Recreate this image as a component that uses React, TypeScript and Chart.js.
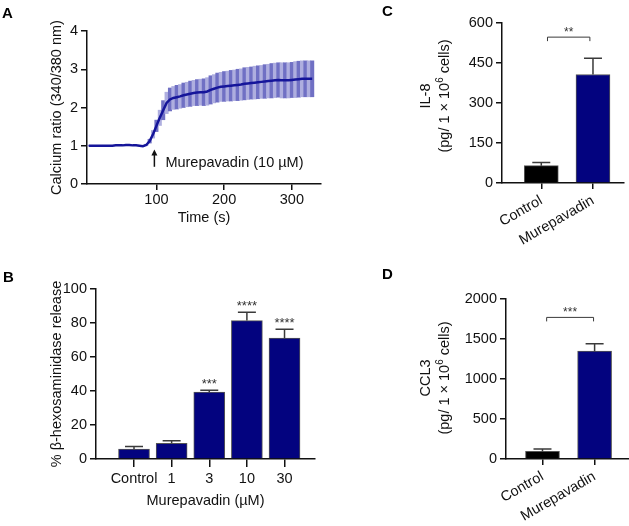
import React, { useEffect, useRef } from "react";
import { Chart, registerables } from "chart.js";
Chart.register(...registerables);

const FONT = "'Liberation Sans', Arial, Helvetica, sans-serif";
const TXT = "#111111";
const AXIS = "#111111";
const NAVY = "#03037f";
const BLACK = "#000000";

// ---------- Panel A: calcium ratio time course ----------
const timeSec = [0, 5, 10, 15, 20, 25, 30, 35, 40, 45, 50, 55, 60, 65, 70, 75, 80, 85, 90, 95, 100, 105, 110, 115, 120, 125, 130, 135, 140, 145, 150, 155, 160, 165, 170, 175, 180, 185, 190, 195, 200, 205, 210, 215, 220, 225, 230, 235, 240, 245, 250, 255, 260, 265, 270, 275, 280, 285, 290, 295, 300, 305, 310, 315, 320, 325, 330];
const calciumMean = [1.0, 1.0, 1.0, 1.0, 1.0, 1.0, 1.0, 1.0, 1.01, 1.01, 1.01, 1.02, 1.02, 1.01, 1.01, 1.0, 0.99,
  1.02, 1.12, 1.3, 1.52, 1.73, 1.93, 2.12, 2.21,
  2.25, 2.27, 2.29, 2.32, 2.34, 2.36, 2.38, 2.39, 2.4, 2.4,
  2.42, 2.46, 2.49, 2.52, 2.54, 2.55, 2.56, 2.57, 2.58, 2.59,
  2.6, 2.62, 2.63, 2.64, 2.65, 2.66, 2.67, 2.68, 2.69, 2.7,
  2.71, 2.72, 2.71, 2.71, 2.71, 2.72, 2.73, 2.74, 2.75, 2.75, 2.75, 2.75];
const calciumSem = [0, 0, 0, 0, 0, 0, 0, 0, 0, 0, 0, 0, 0, 0, 0, 0, 0,
  0.02, 0.05, 0.1, 0.15, 0.2, 0.25, 0.28, 0.3,
  0.3, 0.31, 0.31, 0.32, 0.32, 0.33, 0.33, 0.34, 0.34, 0.35,
  0.36, 0.37, 0.37, 0.38, 0.38, 0.39, 0.39, 0.4, 0.4, 0.41,
  0.41, 0.42, 0.42, 0.42, 0.43, 0.43, 0.43, 0.44, 0.44, 0.45,
  0.45, 0.45, 0.46, 0.46, 0.46, 0.46, 0.47, 0.47, 0.47, 0.47, 0.47, 0.47];
const timeTicks = [100, 200, 300];
const calciumTicks = [0, 1, 2, 3, 4];
const stimulusTime = 97;
const stimulusLabel = "Murepavadin (10 µM)";

// ---------- Panel B: beta-hexosaminidase ----------
const bCategories = ["Control", "1", "3", "10", "30"];
const bMeans = [5.8, 9.2, 39.3, 81.4, 71.1];
const bSems = [1.6, 1.6, 1.1, 4.9, 5.2];
const bStars = ["", "", "***", "****", "****"];
const bTicks = [0, 20, 40, 60, 80, 100];

// ---------- Panels C & D ----------
const cdCategories = ["Control", "Murepavadin"];
const il8Means = [65, 407];
const il8Sems = [12, 61];
const il8Ticks = [0, 150, 300, 450, 600];
const il8Sig = "**";
const ccl3Means = [95, 1348];
const ccl3Sems = [29, 92];
const ccl3Ticks = [0, 500, 1000, 1500, 2000];
const ccl3Sig = "***";

const font = (size: number, weight: string = "normal") => ({ family: FONT, size, weight } as any);

function axisBase(tickLength: number, tickPadding: number) {
  return {
    border: { color: AXIS, width: 1.5 },
    grid: { drawOnChartArea: false, offset: false, color: AXIS, lineWidth: 1.5, tickLength },
    ticks: { color: TXT, font: font(14.5), padding: tickPadding, autoSkip: false, callback: (v: any) => String(v) },
  };
}

function errorBars(id: string, means: number[], sems: number[], capHalf: number) {
  return {
    id,
    afterDatasetsDraw(chart: any) {
      const { ctx, scales } = chart;
      const x = scales.x, y = scales.y;
      ctx.save();
      ctx.strokeStyle = "#3a3a3a";
      ctx.lineWidth = 1.5;
      means.forEach((m, i) => {
        const px = x.getPixelForValue(i);
        const y0 = y.getPixelForValue(m);
        const y1 = y.getPixelForValue(m + sems[i]);
        ctx.beginPath();
        ctx.moveTo(px, y0);
        ctx.lineTo(px, y1);
        ctx.moveTo(px - capHalf, y1);
        ctx.lineTo(px + capHalf, y1);
        ctx.stroke();
      });
      ctx.restore();
    },
  };
}

function bracket(id: string, x0: number, x1: number, yVal: number, text: string) {
  return {
    id,
    afterDatasetsDraw(chart: any) {
      const { ctx, scales } = chart;
      const a = scales.x.getPixelForValue(x0);
      const b = scales.x.getPixelForValue(x1);
      const yy = scales.y.getPixelForValue(yVal);
      ctx.save();
      ctx.strokeStyle = "#3a3a3a";
      ctx.lineWidth = 1;
      ctx.beginPath();
      ctx.moveTo(a, yy + 4);
      ctx.lineTo(a, yy);
      ctx.lineTo(b, yy);
      ctx.lineTo(b, yy + 4);
      ctx.stroke();
      ctx.fillStyle = "#333";
      ctx.font = `12px ${FONT}`;
      ctx.textAlign = "center";
      ctx.textBaseline = "alphabetic";
      ctx.fillText(text, (a + b) / 2, yy - 1);
      ctx.restore();
    },
  };
}

function yTitle2(id: string, line1: string, cx1: number, cx2: number, cy: number) {
  return {
    id,
    afterDraw(chart: any) {
      const { ctx } = chart;
      ctx.save();
      ctx.fillStyle = TXT;
      ctx.textBaseline = "middle";
      ctx.save();
      ctx.translate(cx1, cy);
      ctx.rotate(-Math.PI / 2);
      ctx.font = `14.5px ${FONT}`;
      ctx.textAlign = "center";
      ctx.fillText(line1, 0, 0);
      ctx.restore();
      ctx.save();
      ctx.translate(cx2, cy);
      ctx.rotate(-Math.PI / 2);
      const mainF = `14.5px ${FONT}`;
      const supF = `10px ${FONT}`;
      const p1 = "(pg/ 1 × 10";
      const p2 = "6";
      const p3 = " cells)";
      ctx.font = mainF;
      const w1 = ctx.measureText(p1).width;
      const w3 = ctx.measureText(p3).width;
      ctx.font = supF;
      const w2 = ctx.measureText(p2).width;
      let xx = -(w1 + w2 + w3) / 2;
      ctx.textAlign = "left";
      ctx.font = mainF;
      ctx.fillText(p1, xx, 0);
      xx += w1;
      ctx.font = supF;
      ctx.fillText(p2, xx, -5);
      xx += w2;
      ctx.font = mainF;
      ctx.fillText(p3, xx, 0);
      ctx.restore();
      ctx.restore();
    },
  };
}

function configA(): any {
  const base = axisBase(6, 1);
  const baseY = axisBase(6, 3);
  return {
    type: "bar",
    data: {
      datasets: [
        {
          type: "line",
          data: timeSec.map((t, i) => ({ x: t, y: calciumMean[i] })),
          borderColor: "#15159a",
          borderWidth: 2.5,
          pointRadius: 0,
          order: 0,
        },
        {
          type: "bar",
          data: timeSec.map((t, i) => ({ x: t, y: [calciumMean[i] - calciumSem[i], calciumMean[i] + calciumSem[i]] })),
          backgroundColor: timeSec.map((_, i) => (i % 2 === 0 ? "#7070c4" : "#aeaedf")),
          borderWidth: 0,
          barPercentage: 1,
          categoryPercentage: 1,
          order: 1,
        },
      ],
    },
    options: {
      animation: false,
      responsive: false,
      layout: { padding: { left: 0, top: 31, right: 19, bottom: 0 } },
      plugins: { legend: { display: false }, tooltip: { enabled: false } },
      scales: {
        x: {
          type: "linear",
          min: -2.5,
          max: 343,
          offset: false,
          ...base,
          ticks: { ...base.ticks, maxRotation: 0 },
          afterBuildTicks: (s: any) => { s.ticks = timeTicks.map((v) => ({ value: v })); },
          afterFit: (s: any) => { s.height = 51; },
          title: { display: true, text: "Time (s)", color: TXT, font: font(14.5), padding: { top: 0, bottom: 8 } },
        },
        y: {
          type: "linear",
          min: 0,
          max: 4,
          ...baseY,
          afterBuildTicks: (s: any) => { s.ticks = calciumTicks.map((v) => ({ value: v })); },
          afterFit: (s: any) => { s.width = 87; },
          title: { display: true, text: "Calcium ratio (340/380 nm)", color: TXT, font: font(14.5), padding: { top: 48, bottom: 0 } },
        },
      },
    },
    plugins: [
      {
        id: "stimArrow",
        afterDatasetsDraw(chart: any) {
          const { ctx, scales } = chart;
          const px = scales.x.getPixelForValue(stimulusTime);
          const yTop = scales.y.getPixelForValue(0.9);
          const yBot = scales.y.getPixelForValue(0.45);
          ctx.save();
          ctx.strokeStyle = "#111";
          ctx.fillStyle = "#111";
          ctx.lineWidth = 1.5;
          ctx.beginPath();
          ctx.moveTo(px, yBot);
          ctx.lineTo(px, yTop + 4);
          ctx.stroke();
          ctx.beginPath();
          ctx.moveTo(px, yTop);
          ctx.lineTo(px - 3, yTop + 6);
          ctx.lineTo(px + 3, yTop + 6);
          ctx.closePath();
          ctx.fill();
          ctx.font = `14.5px ${FONT}`;
          ctx.fillStyle = TXT;
          ctx.textAlign = "left";
          ctx.textBaseline = "middle";
          ctx.fillText(stimulusLabel, px + 11, scales.y.getPixelForValue(0.54));
          ctx.restore();
        },
      },
    ],
  };
}

function configB(): any {
  const base = axisBase(8, 3);
  const baseY = axisBase(6, 3);
  return {
    type: "bar",
    data: {
      datasets: [
        {
          data: bMeans.map((v, i) => ({ x: i, y: v })),
          backgroundColor: NAVY,
          borderColor: "#555",
          borderWidth: 1,
          barThickness: 31,
        },
      ],
    },
    options: {
      animation: false,
      responsive: false,
      layout: { padding: { left: 0, top: 39, right: 25, bottom: 0 } },
      plugins: { legend: { display: false }, tooltip: { enabled: false } },
      scales: {
        x: {
          type: "linear",
          min: -1.01,
          max: 4.81,
          offset: false,
          ...base,
          ticks: { ...base.ticks, maxRotation: 0, callback: (_v: any, i: number) => bCategories[i] },
          afterBuildTicks: (s: any) => { s.ticks = bCategories.map((_, i) => ({ value: i })); },
          afterFit: (s: any) => { s.height = 67; },
          title: { display: true, text: "Murepavadin (µM)", color: TXT, font: font(14.5), padding: { top: 0, bottom: 16.5 } },
        },
        y: {
          type: "linear",
          min: 0,
          max: 100,
          ...baseY,
          afterBuildTicks: (s: any) => { s.ticks = bTicks.map((v) => ({ value: v })); },
          afterFit: (s: any) => { s.width = 96; },
          title: { display: true, text: "% β-hexosaminidase release", color: TXT, font: font(14.5), padding: { top: 48, bottom: 0 } },
        },
      },
    },
    plugins: [
      errorBars("ebB", bMeans, bSems, 9),
      {
        id: "starsB",
        afterDatasetsDraw(chart: any) {
          const { ctx, scales } = chart;
          ctx.save();
          ctx.fillStyle = "#333";
          ctx.font = `13px ${FONT}`;
          ctx.textAlign = "center";
          ctx.textBaseline = "alphabetic";
          bStars.forEach((s, i) => {
            if (!s) return;
            ctx.fillText(s, scales.x.getPixelForValue(i), scales.y.getPixelForValue(bMeans[i] + bSems[i]) - 2.5);
          });
          ctx.restore();
        },
      },
    ],
  };
}

function configCD(means: number[], sems: number[], ticks: number[], xmin: number, xmax: number, pad: any, xH: number, yW: number, sigY: number, sigX: number[], sig: string, title1: string, tcy: number, id: string): any {
  const base = axisBase(6, 3);
  return {
    type: "bar",
    data: {
      datasets: [
        {
          data: means.map((v, i) => ({ x: i, y: v })),
          backgroundColor: [BLACK, NAVY],
          borderColor: "#555",
          borderWidth: 1,
          barThickness: 34,
        },
      ],
    },
    options: {
      animation: false,
      responsive: false,
      layout: { padding: pad },
      plugins: { legend: { display: false }, tooltip: { enabled: false } },
      scales: {
        x: {
          type: "linear",
          min: xmin,
          max: xmax,
          offset: false,
          ...base,
          ticks: { ...base.ticks, minRotation: 30, maxRotation: 30, callback: (_v: any, i: number) => cdCategories[i] },
          afterBuildTicks: (s: any) => { s.ticks = cdCategories.map((_, i) => ({ value: i })); },
          afterFit: (s: any) => { s.height = xH; },
        },
        y: {
          type: "linear",
          min: ticks[0],
          max: ticks[ticks.length - 1],
          ...base,
          afterBuildTicks: (s: any) => { s.ticks = ticks.map((v) => ({ value: v })); },
          afterFit: (s: any) => { s.width = yW; },
        },
      },
    },
    plugins: [
      errorBars("eb" + id, means, sems, 9),
      bracket("br" + id, sigX[0], sigX[1], sigY, sig),
      yTitle2("yt" + id, title1, 46, 65, tcy),
    ],
  };
}

function ChartBox({ left, top, width, height, make }: { left: number; top: number; width: number; height: number; make: () => any }) {
  const ref = useRef<HTMLCanvasElement | null>(null);
  useEffect(() => {
    if (!ref.current) return;
    const chart = new Chart(ref.current, make());
    return () => chart.destroy();
  }, []);
  return (
    <canvas
      ref={ref}
      width={width}
      height={height}
      style={{ position: "absolute", left, top, width, height }}
    />
  );
}

const letterStyle = (left: number, top: number): React.CSSProperties => ({
  position: "absolute",
  left,
  top,
  fontFamily: FONT,
  fontWeight: "bold",
  fontSize: 15,
  lineHeight: "15px",
  color: "#000",
});

export default function App() {
  return (
    <div style={{ position: "absolute", left: 0, top: 0, width: 629, height: 526, background: "#fff", overflow: "hidden" }}>
      <ChartBox left={0} top={0} width={340} height={235} make={configA} />
      <ChartBox left={0} top={250} width={340} height={276} make={configB} />
      <ChartBox
        left={380}
        top={0}
        width={249}
        height={260}
        make={() => configCD(il8Means, il8Sems, il8Ticks, -0.76, 1.6, { left: 0, top: 23, right: 5, bottom: 0 }, 77, 122, 547, [0.12, 0.94], il8Sig, "IL-8", 96, "C")}
      />
      <ChartBox
        left={380}
        top={260}
        width={249}
        height={266}
        make={() => configCD(ccl3Means, ccl3Sems, ccl3Ticks, -0.7, 1.66, { left: 0, top: 39, right: 0, bottom: 0 }, 67, 126, 1770, [0.08, 0.98], ccl3Sig, "CCL3", 118, "D")}
      />
      <div style={letterStyle(2, 5)}>A</div>
      <div style={letterStyle(3, 269)}>B</div>
      <div style={letterStyle(382, 3)}>C</div>
      <div style={letterStyle(382, 266)}>D</div>
    </div>
  );
}
